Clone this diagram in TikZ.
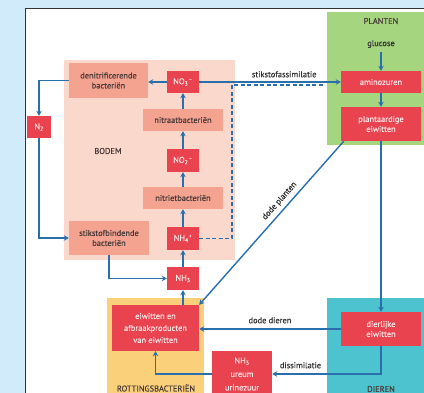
\documentclass[tikz,border=0pt]{standalone}
\usepackage{fontspec}
\setmainfont{PT Sans}[FakeBold=0.5]
\usetikzlibrary{arrows.meta,calc}
\definecolor{bgblue}{HTML}{D2EBFA}
\definecolor{bodem}{HTML}{FAD8CB}
\definecolor{salmon}{HTML}{F4A391}
\definecolor{nred}{HTML}{E8434F}
\definecolor{plgreen}{HTML}{A5D57F}
\definecolor{rotyel}{HTML}{FAD07A}
\definecolor{dierteal}{HTML}{4CC3CF}
\definecolor{lblue}{HTML}{2A6FAD}
\definecolor{redtxt}{HTML}{FCE2E2}
\definecolor{darktxt}{HTML}{4A3A38}
\definecolor{labtxt}{HTML}{333333}
\begin{document}
\begin{tikzpicture}[x=1pt,y=-1pt,
  every node/.style={font=\fontsize{8.4}{10}\selectfont, inner sep=0pt},
  redbox/.style={fill=nred, text=redtxt, align=center},
  salbox/.style={fill=salmon, text=darktxt, align=center},
  arr/.style={draw=lblue, line width=1.4pt, -{Stealth[length=5pt,width=5.5pt]}},
  dline/.style={draw=lblue, line width=1.4pt, dash pattern=on 4pt off 2.5pt},
  lab/.style={text=labtxt},
  reglab/.style={text=darktxt}
]
\useasboundingbox (0,0) rectangle (424,393);
\clip (0,0) rectangle (424,393);
\fill[bgblue] (0,0) rectangle (424,393);
\fill[white] (25,9) rectangle (424,393);
\draw[black!80, line width=1pt] (25,395) -- (25,9) -- (426,9);

% regions
\fill[bodem] (64,60) rectangle (235,260);
\fill[plgreen] (327,12) rectangle (426,145);
\fill[rotyel] (107,298) rectangle (204,396);
\fill[dierteal] (327,298) rectangle (426,396);

\node[reglab] (tbodem) at (108,151) {BODEM};
\node[reglab] (tplanten) at (381,21) {PLANTEN};
\node[reglab] (trot) at (156,388) {ROTTINGSBACTERIËN};
\node[reglab] (tdier) at (381,389) {DIEREN};

% nodes
\node[salbox, minimum width=79pt, minimum height=35pt] (denit) at (108.5,80.5) {denitrificerende\\bacteriën};
\node[redbox, minimum width=32pt, minimum height=22pt] (no3) at (183,82) {NO\textsubscript{3}\textsuperscript{–}};
\node[salbox, minimum width=80pt, minimum height=22pt] (nitraat) at (183,120) {nitraatbacteriën};
\node[redbox, minimum width=32pt, minimum height=23pt] (no2) at (183,160.5) {NO\textsubscript{2}\textsuperscript{–}};
\node[salbox, minimum width=80pt, minimum height=22pt] (nitriet) at (183,198) {nitrietbacteriën};
\node[redbox, minimum width=32pt, minimum height=23pt] (nh4) at (183,238.5) {NH\textsubscript{4}\textsuperscript{+}};
\node[redbox, minimum width=32pt, minimum height=23pt] (nh3) at (183,278.5) {NH\textsubscript{3}};
\node[salbox, minimum width=80pt, minimum height=34pt] (stik) at (109,238) {stikstofbindende\\bacteriën};
\node[redbox, minimum width=24pt, minimum height=22pt] (n2) at (39,127) {N\textsubscript{2}};
\node[redbox, minimum width=87pt, minimum height=46pt, font=\fontsize{8.4}{12}\selectfont] (eiw) at (155.5,328) {eiwitten en\\afbraakproducten\\van eiwitten};
\node[redbox, minimum width=60pt, minimum height=46pt, font=\fontsize{8.4}{13.5}\selectfont] (nh3u) at (242,374) {NH\textsubscript{3}\\ureum\\urinezuur};
\node[redbox, minimum width=80pt, minimum height=34pt] (dier) at (381,329) {dierlijke\\eiwitten};
\node[redbox, minimum width=80pt, minimum height=22pt] (amino) at (381,82) {aminozuren};
\node[redbox, minimum width=80pt, minimum height=34pt] (plant) at (381,124) {plantaardige\\eiwitten};
\node[lab] (gluc) at (381,44) {glucose};

% connectors
\draw[arr] (no3.west) -- (no3.west -| denit.east);
\draw[arr] (denit.west) -| (n2.north);
\draw[arr] (n2.south) |- (stik.west);
\draw[arr] (stik.south) |- (nh3.west);
\draw[arr] (nh3.north) -- (nh4.south);
\draw[arr] (nh4.north) -- (nitriet.south);
\draw[arr] (nitriet.north) -- (no2.south);
\draw[arr] (no2.north) -- (nitraat.south);
\draw[arr] (nitraat.north) -- (no3.south);
\draw[arr] (nh3.south |- eiw.north) -- (nh3.south);
\draw[arr] (no3.east) -- (amino.west) node[lab, pos=0.6, above=4pt] {stikstofassimilatie};
\coordinate (d1) at (232,238.5);
\coordinate (d2) at (232,85);
\coordinate (d3) at (322,85);
\coordinate (d4) at (322,82);
\draw[dline] (nh4.east) -- (d1) -- (d2) -- (d3) -- (d4);
\draw[arr] (gluc.south) ++(0,4) -- (amino.north);
\draw[arr] (amino.south) -- (plant.north);
\coordinate (pstart) at ($(plant.south west)+(3,0)$);
\draw[arr] (pstart) -- (eiw.north east) node[lab, pos=0.4, sloped, above=4pt] {dode planten};
\draw[arr] (plant.south) -- (dier.north);
\draw[arr] (dier.west) -- (dier.west -| eiw.east) node[lab, midway, above=5pt] {dode dieren};
\draw[arr] (dier.south) |- (nh3u.east) node[lab, pos=0.87, above=5pt] {dissimilatie};
\draw[arr] (nh3u.west) -| (eiw.south);
\end{tikzpicture}
\end{document}
